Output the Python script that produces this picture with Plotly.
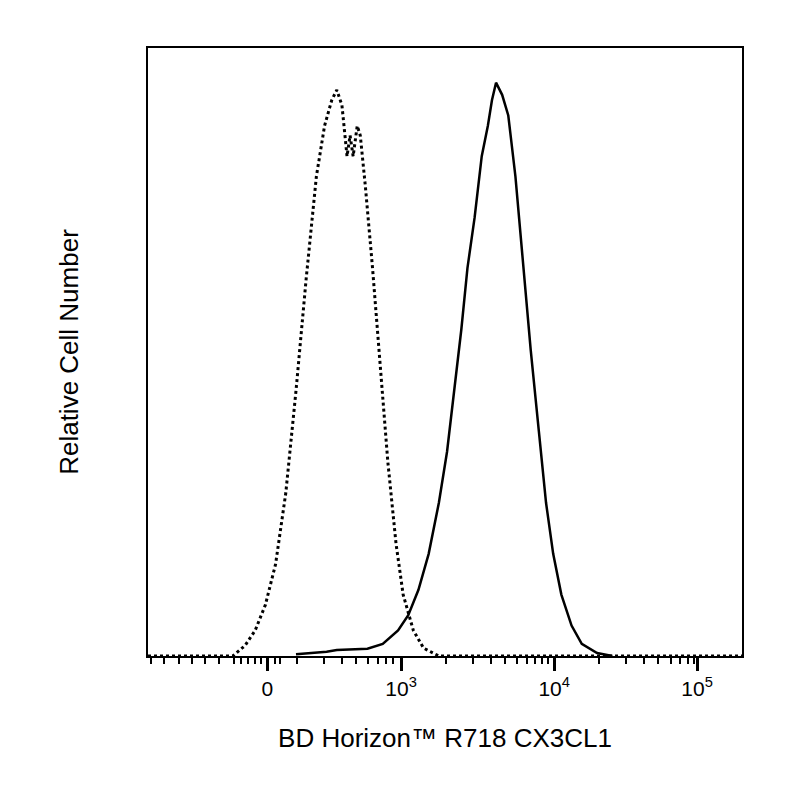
import plotly.graph_objects as go

# display-scale x (biexponential axis positions), relative cell number (%)
dot_x = [145,228,240,250,260,270,280,290,300,310,318,325,330,335,340,343,346,350,353,358,365,372,380,388,395,405,415,430,727]
dot_y = [0,0,1.7,4.2,8.4,15.1,26.8,43.6,62.1,78.9,87.2,91.4,93.1,90.6,82.2,85.6,82.2,87.2,85.6,77.2,63.8,48.7,31.9,18.5,10.1,4.2,1.3,0,0]
sol_x = [290,320,330,360,375,390,400,410,420,430,438,445,452,458,465,472,478,482,486,492,498,505,512,520,528,535,542,550,560,570,585,600]
sol_y = [0.3,0.7,1.0,1.2,2.0,4.2,6.7,10.9,16.8,25.2,33.6,43.6,53.7,63.8,72.1,82.2,87.2,91.4,94.3,92.3,88.9,78.9,65.4,50.3,36.9,25.2,16.8,10.1,5.0,2.0,0.5,0]

major_vals = [262, 393, 543, 683]
major_text = ["0", "10<sup>3</sup>", "10<sup>4</sup>", "10<sup>5</sup>"]
minor_vals = [148,161,175,188,201,215,229,236,243,250,256,269,274,
              291,317,335,349,361,370,378,385,
              437,463,481,495,507,516,524,531,537,
              587,613,631,645,657,666,674,680]

fig = go.Figure()
fig.add_trace(go.Scatter(x=dot_x, y=dot_y, mode="lines",
                         line=dict(color="black", width=3, dash="dot")))
fig.add_trace(go.Scatter(x=sol_x, y=sol_y, mode="lines",
                         line=dict(color="black", width=2.5)))
fig.update_layout(
    width=800, height=800, showlegend=False,
    plot_bgcolor="white", paper_bgcolor="white",
    margin=dict(l=140, r=66, t=40, b=152),
    font=dict(family="Liberation Sans, Arial", color="black", size=20),
    xaxis=dict(range=[145, 727], showgrid=False, zeroline=False,
               showline=True, linecolor="black", linewidth=1.5, mirror=True,
               tickmode="array", tickvals=major_vals, ticktext=major_text,
               ticks="outside", ticklen=13, tickwidth=3, tickcolor="black",
               minor=dict(tickmode="array", tickvals=minor_vals, ticks="outside",
                          ticklen=6, tickwidth=1.5, tickcolor="black"),
               tickfont=dict(size=21),
               title=dict(text="BD Horizon™ R718 CX3CL1", font=dict(size=26), standoff=30)),
    yaxis=dict(range=[0, 100], showgrid=False, zeroline=False,
               showline=True, linecolor="black", linewidth=1.5, mirror=True,
               showticklabels=False, ticks="",
               title=dict(text="Relative Cell Number", font=dict(size=26), standoff=60)),
)
fig.write_html("out.html")
